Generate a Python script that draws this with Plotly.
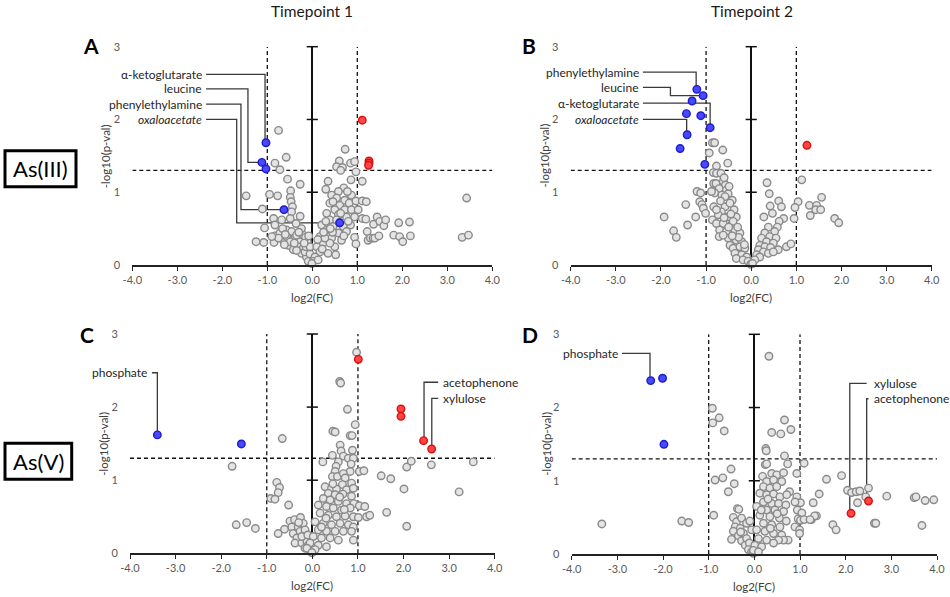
import plotly.graph_objects as go

# ---------------- data ----------------
X_TICKS = [-4, -3, -2, -1, 0, 1, 2, 3, 4]
X_TICK_TEXT = ["-4.0", "-3.0", "-2.0", "-1.0", "0.0", "1.0", "2.0", "3.0", "4.0"]
Y_TICKS = [0, 1, 2, 3]
FC_CUT = 1.0          # |log2(FC)| threshold
P_CUT = 1.3           # -log10(0.05)

# Panel A : As(III), timepoint 1
A_GRAY = [(-0.75,1.85),(-0.58,1.48),(-0.83,1.40),(-0.72,1.31),(-0.55,1.18),(-0.27,1.11),(-1.47,0.95),
          (-0.95,0.97),(-0.77,0.95),(-0.48,1.02),(-0.49,0.93),(-0.47,0.87),(-0.44,0.80),(-1.11,0.77),
          (-0.46,0.73),(-0.27,0.67),(-0.49,0.64),(-0.86,0.64),(-0.68,0.62),(-0.36,0.57),(-1.06,0.51),
          (-0.83,0.55),(-1.25,0.32),(-1.08,0.31),(-0.85,0.31),(-0.83,0.40),(-0.72,0.44),(-0.57,0.48),
          (-0.46,0.46),(-0.64,0.34),(-0.53,0.27),(-0.38,0.37),(-0.27,0.32),(-0.31,0.25),(-0.20,0.23),
          (-0.42,0.21),(-0.24,0.16),(-0.13,0.11),(-0.09,0.05),(-0.16,0.18),(-0.35,0.41),(-0.20,0.41),
          (-0.24,0.50),(-0.57,0.39),(-0.75,0.37),(-0.66,0.50),(-0.90,0.39),(-0.49,0.32),(-0.11,0.32),
          (-0.14,0.25),(-0.60,0.42),(-0.40,0.30),(-0.30,0.45),(-0.15,0.38),(-0.05,0.15),(-0.05,0.25),
          (-0.62,0.28),(-0.35,0.20),(-0.18,0.30),(-0.08,0.40),
          (0.73,1.59),(0.60,1.43),(0.54,1.35),(0.67,1.34),(0.85,1.40),(0.94,1.42),(0.63,1.30),(0.97,1.28),
          (0.86,1.17),(0.35,1.15),(0.30,1.04),(0.70,1.06),(0.58,1.01),(0.43,0.96),(0.87,0.96),(0.54,0.92),
          (0.72,0.89),(0.39,0.85),(0.61,0.82),(0.82,0.85),(0.97,0.88),(0.50,0.76),(0.72,0.76),(0.87,0.76),
          (0.32,0.71),(0.58,0.69),(0.76,0.66),(0.94,0.66),(0.39,0.62),(0.21,0.55),(0.46,0.53),(0.69,0.53),
          (0.85,0.55),(0.32,0.48),(0.58,0.44),(0.76,0.46),(0.17,0.39),(0.43,0.37),(0.65,0.34),(0.24,0.30),
          (0.50,0.25),(0.10,0.25),(0.17,0.18),(0.35,0.16),(0.06,0.11),(0.02,0.05),(-0.01,0.02),(0.13,0.07),
          (0.52,0.14),(0.39,0.30),(0.28,0.37),(0.54,0.62),(0.63,0.71),(0.46,0.87),(0.78,1.01),(0.25,0.45),
          (0.45,0.45),(0.70,0.40),(0.30,0.60),(0.60,0.58),(0.80,0.60),(0.12,0.35),(0.22,0.22),(0.40,0.50),
          (1.11,1.15),(1.11,0.88),(1.20,0.87),(1.02,0.76),(1.11,0.64),(1.19,0.63),(0.94,0.38),(0.97,0.29),
          (1.22,0.46),(1.24,0.34),(1.29,0.37),(1.35,0.37),(1.39,0.37),(1.44,0.66),(1.36,0.56),(1.50,0.60),
          (1.59,0.54),(1.63,0.62),(1.48,0.40),(1.81,0.41),(1.92,0.58),(1.94,0.39),(2.01,0.32),(2.16,0.59),
          (2.18,0.40),(3.43,0.92),(3.33,0.38),(3.47,0.41)]
A_BLUE_X = [-1.03, -1.12, -1.03, -0.63, 0.61]
A_BLUE_Y = [1.68, 1.41, 1.32, 0.76, 0.58]
A_RED_X = [1.11, 1.26, 1.26, 1.25]
A_RED_Y = [1.99, 1.43, 1.40, 1.37]
A_LABELS = ["α-ketoglutarate", "leucine", "phenylethylamine", "<i>oxaloacetate</i>"]
A_LABEL_Y = [2.62, 2.42, 2.21, 2.00]
A_CORNER_X = [-1.05, -1.43, -1.585, -1.68]
A_TARGET = [(-1.03, 1.68), (-1.12, 1.41), (-0.63, 0.76), (0.61, 0.58)]
A_TEXT_X, A_LINE_X = -2.43, -2.36

# Panel B : As(III), timepoint 2
B_GRAY = [(-0.86,1.68),(-0.81,1.68),(-0.93,1.54),(-0.63,1.58),(-0.52,1.40),(-0.77,1.36),(-0.84,1.27),
          (-0.77,1.26),(-0.67,1.26),(-0.83,1.12),(-0.78,1.12),(-0.62,1.15),(-0.57,1.10),(-0.71,1.05),
          (-0.55,1.03),(-1.20,1.01),(-1.12,0.99),(-0.81,0.99),(-0.65,0.96),(-0.51,0.98),(-0.42,0.89),
          (-1.14,0.87),(-1.09,0.83),(-1.45,0.83),(-1.06,0.78),(-1.01,0.71),(-0.83,0.80),(-0.58,0.80),
          (-0.66,0.73),(-0.38,0.76),(-0.73,0.69),(-0.52,0.66),(-0.33,0.66),(-1.93,0.66),(-1.23,0.66),
          (-0.86,0.62),(-0.77,0.57),(-0.62,0.57),(-0.44,0.55),(-1.41,0.55),(-1.72,0.47),(-1.66,0.38),
          (-0.70,0.48),(-0.55,0.46),(-0.36,0.48),(-0.25,0.44),(-0.71,0.39),(-0.51,0.37),(-0.33,0.34),
          (-0.21,0.32),(-0.47,0.27),(-0.40,0.23),(-0.25,0.25),(-0.14,0.23),(-0.36,0.16),(-0.21,0.14),
          (-0.10,0.11),(-0.33,0.09),(-0.18,0.07),(-0.07,0.05),(-0.01,0.01),(-0.62,0.41),(-0.77,0.76),
          (-0.47,0.85),(-0.58,0.94),(-0.49,1.08),(-0.88,1.01),(-0.45,0.70),(-0.40,0.60),(-0.30,0.52),
          (-0.60,0.65),(-0.50,0.52),(-0.28,0.38),(-0.15,0.28),(-0.42,0.40),(-0.68,0.88),(-0.60,1.20),
          (0.35,1.13),(0.40,0.98),(0.61,0.88),(0.42,0.81),(0.67,0.80),(0.47,0.71),(0.28,0.66),(0.72,0.64),
          (0.62,0.60),(0.58,0.52),(0.38,0.52),(0.52,0.46),(0.30,0.44),(0.41,0.39),(0.23,0.37),(0.55,0.37),
          (0.34,0.32),(0.49,0.30),(0.19,0.27),(0.30,0.25),(0.43,0.24),(0.60,0.21),(0.78,0.25),(0.88,0.29),
          (0.16,0.21),(0.27,0.18),(0.12,0.14),(0.19,0.11),(0.08,0.07),(0.03,0.02),(0.38,0.16),(0.49,0.18),
          (1.12,1.17),(1.04,0.87),(0.97,0.79),(0.95,0.64),(1.29,0.82),(1.45,0.82),(1.56,0.93),(1.43,0.76),
          (1.54,0.76),(1.31,0.68),(1.85,0.64),(1.94,0.58)]
B_BLUE_X = [-1.205, -1.065, -1.31, -1.435, -1.117, -0.91, -1.42, -1.575, -1.028]
B_BLUE_Y = [2.414, 2.327, 2.254, 2.08, 2.052, 1.887, 1.79, 1.60, 1.383]
B_RED_X = [1.235]
B_RED_Y = [1.645]
B_LABELS = ["phenylethylamine", "leucine", "α-ketoglutarate", "<i>oxaloacetate</i>"]
B_LABEL_Y = [2.65, 2.44, 2.225, 2.00]
B_CORNER_X = [-1.22, -1.79, -0.91, -1.43]
B_TARGET = [(-1.205, 2.414), (-1.065, 2.327), (-0.91, 1.887), (-1.42, 1.79)]
B_TEXT_X, B_LINE_X = -2.47, -2.40

# Panel C : As(V), timepoint 1
C_GRAY = [(-0.66,1.57),(-1.76,1.19),(-0.78,0.97),(-0.72,0.90),(-0.75,0.83),(-0.91,0.75),(-0.82,0.74),
          (-0.52,0.66),(-1.67,0.39),(-1.44,0.42),(-1.25,0.34),(-0.75,0.27),(-0.61,0.33),(-0.49,0.44),
          (-0.39,0.46),(-0.26,0.49),(-0.45,0.36),(-0.31,0.36),(-0.20,0.41),(-0.42,0.27),(-0.27,0.30),
          (-0.16,0.32),(-0.34,0.21),(-0.20,0.23),(-0.38,0.14),(-0.23,0.14),(-0.12,0.16),(-0.16,0.07),
          (-0.07,0.05),(-0.01,0.01),(-0.09,0.11),(-0.23,0.23),(-0.30,0.42),(-0.10,0.25),
          (0.97,2.75),(0.60,2.35),(0.62,2.33),(0.77,1.97),(0.94,1.76),(0.45,1.67),(0.50,1.66),(0.83,1.61),
          (0.87,1.61),(0.61,1.48),(0.63,1.40),(0.88,1.41),(0.44,1.34),(0.68,1.33),(0.79,1.30),(0.90,1.30),
          (0.23,1.25),(0.57,1.25),(0.52,1.19),(0.85,1.22),(0.83,1.12),(1.03,1.12),(1.13,1.13),(0.50,1.12),
          (0.44,1.05),(0.55,1.05),(0.68,1.09),(0.72,1.03),(0.66,0.94),(0.86,0.96),(0.28,0.91),(0.42,0.89),
          (0.53,0.88),(0.75,0.87),(0.90,0.89),(0.35,0.82),(0.50,0.80),(0.67,0.81),(0.86,0.78),(0.24,0.75),
          (0.39,0.73),(0.57,0.71),(0.75,0.68),(0.91,0.68),(0.13,0.66),(0.31,0.64),(0.46,0.62),(0.64,0.59),
          (0.83,0.62),(1.03,0.65),(1.15,0.64),(0.17,0.55),(0.35,0.52),(0.53,0.50),(0.72,0.51),(0.90,0.50),
          (1.01,0.49),(1.19,0.50),(1.26,0.52),(0.06,0.43),(0.24,0.41),(0.42,0.39),(0.61,0.41),(0.79,0.39),
          (0.90,0.36),(0.13,0.32),(0.31,0.30),(0.50,0.30),(0.68,0.30),(0.86,0.30),(0.02,0.23),(0.20,0.21),
          (0.39,0.21),(0.57,0.18),(0.90,0.18),(-0.05,0.14),(0.13,0.11),(0.31,0.09),(-0.12,0.07),(0.06,0.05),
          (-0.01,0.01),(0.45,0.95),(0.60,0.77),(0.30,0.48),(0.70,0.60),(0.20,0.36),
          (1.51,1.06),(1.72,1.02),(1.63,0.56),(2.01,0.88),(2.07,0.37),(2.07,1.18),(2.17,1.26),(2.61,1.21),
          (3.22,0.84),(3.53,1.25)]
C_BLUE_X = [-3.40, -1.557]
C_BLUE_Y = [1.62, 1.496]
C_RED_X = [1.008, 1.944, 1.944, 2.44, 2.617]
C_RED_Y = [2.654, 1.974, 1.874, 1.541, 1.427]
C_LABELS = ["phosphate", "acetophenone", "xylulose"]
C_LABEL_Y = [2.47, 2.34, 2.12]
C_CORNER_X = [-3.40, 2.45, 2.62]
C_TARGET = [(-3.40, 1.62), (2.44, 1.541), (2.617, 1.427)]
C_TEXT_X = [-3.60, 2.84, 2.84]
C_LINE_X = [-3.52, 2.76, 2.76]
C_SIDE = ["right", "left", "left"]

# Panel D : As(V), timepoint 2
D_GRAY = [(-0.92,1.99),(-0.77,1.86),(-0.91,1.79),(-0.66,1.68),(-0.51,1.16),(-0.86,1.01),(-0.69,1.04),
          (-0.44,0.96),(-0.57,0.85),(-0.89,0.53),(-3.34,0.41),(-1.59,0.45),(-1.44,0.43),(-0.37,0.62),
          (-0.34,0.61),(-0.46,0.50),(-0.39,0.44),(-0.28,0.49),(-0.42,0.37),(-0.31,0.35),(-0.46,0.31),
          (-0.50,0.20),(-0.35,0.25),(-0.24,0.28),(-0.28,0.18),(-0.17,0.21),(-0.20,0.12),(-0.11,0.15),
          (-0.13,0.06),(-0.06,0.03),(-0.02,0.01),(-0.17,0.42),(-0.06,0.33),(-0.10,0.45),(-0.30,0.30),
          (0.32,2.70),(0.66,1.83),(0.38,1.66),(0.58,1.64),(0.80,1.70),(0.25,1.44),(0.26,1.41),(0.66,1.34),
          (0.24,1.22),(0.27,1.23),(0.73,1.23),(1.09,1.24),(0.93,1.10),(0.38,1.10),(0.49,1.08),(0.64,1.11),
          (0.18,1.06),(0.27,0.99),(0.42,1.01),(0.60,0.99),(0.20,0.92),(0.34,0.90),(0.49,0.92),(0.77,0.85),
          (0.12,0.83),(0.27,0.81),(0.42,0.82),(0.56,0.78),(0.71,0.81),(0.93,0.78),(1.01,0.70),(0.89,0.71),
          (0.20,0.71),(0.38,0.69),(0.53,0.69),(0.69,0.67),(0.05,0.65),(0.27,0.60),(0.45,0.60),(0.64,0.58),
          (0.94,0.60),(1.04,0.56),(0.12,0.53),(0.34,0.51),(0.55,0.49),(0.96,0.48),(1.01,0.46),(1.09,0.47),
          (1.25,0.47),(1.36,0.52),(0.20,0.42),(0.38,0.40),(0.56,0.37),(0.89,0.37),(0.99,0.33),(0.05,0.33),
          (0.23,0.31),(0.42,0.28),(0.60,0.26),(0.74,0.19),(0.64,0.19),(0.53,0.19),(0.99,0.28),(0.09,0.21),
          (0.27,0.19),(0.42,0.15),(0.01,0.12),(0.16,0.10),(-0.02,0.05),(0.09,0.03),(0.30,0.75),(0.50,0.55),
          (0.15,0.60),(0.70,0.45),(0.35,0.35),
          (1.42,0.82),(1.29,0.70),(1.58,1.02),(1.91,1.07),(1.72,0.40),(1.79,0.33),(2.04,0.87),(2.13,0.84),
          (2.23,0.85),(2.31,0.86),(2.50,0.90),(2.26,0.70),(2.44,0.78),(2.63,0.42),(2.66,0.42),(2.90,0.79),
          (3.50,0.77),(3.54,0.78),(3.74,0.73),(3.93,0.74),(3.67,0.39),(1.32,0.52),(1.22,0.47)]
D_BLUE_X = [-2.27, -2.01, -1.98]
D_BLUE_Y = [2.368, 2.40, 1.498]
D_RED_X = [2.117, 2.50]
D_RED_Y = [0.556, 0.724]
D_LABELS = ["phosphate", "xylulose", "acetophenone"]
D_LABEL_Y = [2.74, 2.33, 2.12]
D_CORNER_X = [-2.285, 2.09, 2.46]
D_TARGET = [(-2.27, 2.368), (2.117, 0.556), (2.50, 0.724)]
D_TEXT_X = [-2.96, 2.60, 2.60]
D_LINE_X = [-2.90, 2.46, 2.50]
D_SIDE = ["right", "left", "left"]

# ---------------- styling ----------------
FONT = "Lato"
TICK_FONT = dict(family=FONT, size=11, color="#595959")
GRAY_MK = dict(size=7.5, color="#e4e4e4", line=dict(color="#8a8a8a", width=1.4))
BLUE_MK = dict(size=7.5, color="#4848ff", line=dict(color="#1c1cc8", width=1.4))
RED_MK = dict(size=7.5, color="#ff4545", line=dict(color="#d81010", width=1.4))

panels = [
    dict(n="", gray=A_GRAY, bx=A_BLUE_X, by=A_BLUE_Y, rx=A_RED_X, ry=A_RED_Y,
         labels=A_LABELS, ly=A_LABEL_Y, cx=A_CORNER_X, tgt=A_TARGET,
         tx=[A_TEXT_X]*4, lx=[A_LINE_X]*4, side=["right"]*4,
         xd=[132.3/950, 492.3/950], yd=[1-265/597, 1-46.7/597]),
    dict(n="2", gray=B_GRAY, bx=B_BLUE_X, by=B_BLUE_Y, rx=B_RED_X, ry=B_RED_Y,
         labels=B_LABELS, ly=B_LABEL_Y, cx=B_CORNER_X, tgt=B_TARGET,
         tx=[B_TEXT_X]*4, lx=[B_LINE_X]*4, side=["right"]*4,
         xd=[570.7/950, 931.7/950], yd=[1-265/597, 1-46.7/597]),
    dict(n="3", gray=C_GRAY, bx=C_BLUE_X, by=C_BLUE_Y, rx=C_RED_X, ry=C_RED_Y,
         labels=C_LABELS, ly=C_LABEL_Y, cx=C_CORNER_X, tgt=C_TARGET,
         tx=C_TEXT_X, lx=C_LINE_X, side=C_SIDE,
         xd=[130/950, 494.7/950], yd=[1-553.3/597, 1-334/597]),
    dict(n="4", gray=D_GRAY, bx=D_BLUE_X, by=D_BLUE_Y, rx=D_RED_X, ry=D_RED_Y,
         labels=D_LABELS, ly=D_LABEL_Y, cx=D_CORNER_X, tgt=D_TARGET,
         tx=D_TEXT_X, lx=D_LINE_X, side=D_SIDE,
         xd=[571.7/950, 937/950], yd=[1-554/597, 1-334.3/597]),
]

fig = go.Figure()
shapes, annotations = [], []
layout_axes = {}

for p in panels:
    n = p["n"]
    xr, yr = "x" + n, "y" + n
    # y-axis tick marks sitting on the centre (x = 0) axis
    fig.add_trace(go.Scatter(x=[0]*3, y=Y_TICKS[1:], xaxis=xr, yaxis=yr, mode="markers",
                             marker=dict(symbol="line-ew", size=8, line=dict(color="#111", width=1.5)),
                             hoverinfo="skip", cliponaxis=False))
    gx = [v[0] for v in p["gray"]]
    gy = [v[1] for v in p["gray"]]
    fig.add_trace(go.Scatter(x=gx, y=gy, xaxis=xr, yaxis=yr, mode="markers", marker=GRAY_MK, cliponaxis=False))
    fig.add_trace(go.Scatter(x=p["bx"], y=p["by"], xaxis=xr, yaxis=yr, mode="markers", marker=BLUE_MK, cliponaxis=False))
    fig.add_trace(go.Scatter(x=p["rx"], y=p["ry"], xaxis=xr, yaxis=yr, mode="markers", marker=RED_MK, cliponaxis=False))

    layout_axes["xaxis" + n] = dict(domain=p["xd"], anchor=yr, range=[-4, 4], tickvals=X_TICKS,
                                    ticktext=X_TICK_TEXT, showline=True, linecolor="#222", linewidth=1.5,
                                    ticks="outside", ticklen=4, tickwidth=1.3, tickcolor="#222",
                                    showgrid=False, zeroline=True, zerolinecolor="#111", zerolinewidth=1.5,
                                    tickfont=TICK_FONT, fixedrange=True, automargin=False)
    layout_axes["yaxis" + n] = dict(domain=p["yd"], anchor=xr, range=[0, 3], tickvals=Y_TICKS,
                                    showline=False, ticks="outside", ticklen=9, tickcolor="rgba(0,0,0,0)",
                                    showgrid=False, zeroline=False, tickfont=TICK_FONT, fixedrange=True,
                                    automargin=False)

    dash = dict(color="#111", width=1.3, dash="4px,3px")
    shapes.append(dict(type="line", xref=xr, yref=yr, x0=-4, x1=4, y0=P_CUT, y1=P_CUT, line=dash, layer="below"))
    for sgn in (-1, 1):
        shapes.append(dict(type="line", xref=xr, yref=yr, x0=sgn*FC_CUT, x1=sgn*FC_CUT, y0=0, y1=3,
                           line=dash, layer="below"))

    for i, lab in enumerate(p["labels"]):
        tgx, tgy = p["tgt"][i]
        path = "M {},{} L {},{} L {},{} L {},{}".format(p["lx"][i], p["ly"][i], p["cx"][i], p["ly"][i],
                                                        p["cx"][i], tgy, tgx, tgy)
        shapes.append(dict(type="path", xref=xr, yref=yr, path=path,
                           line=dict(color="#3a3a3a", width=1.3), layer="below"))
        annotations.append(dict(text=lab, x=p["tx"][i], y=p["ly"][i], xref=xr, yref=yr, showarrow=False,
                                xanchor=p["side"][i], yanchor="middle", borderpad=0,
                                font=dict(family=FONT, size=12, color="#262626")))

    # axis titles
    annotations.append(dict(text="log2(FC)", xref=xr + " domain", yref=yr + " domain", x=0.5, y=0,
                            yshift=-32, showarrow=False, xanchor="center", yanchor="middle",
                            font=dict(family=FONT, size=11.5, color="#404040")))
    annotations.append(dict(text="-log10(p-val)", xref=xr + " domain", yref=yr + " domain", x=0, y=0.5,
                            xshift=-26, showarrow=False, textangle=-90, xanchor="center", yanchor="middle",
                            font=dict(family=FONT, size=11.5, color="#404040")))

# panel letters
for letter, px, py in [("A", 90.5, 45.5), ("B", 529, 45.5), ("C", 87, 334.5), ("D", 529.5, 334.5)]:
    annotations.append(dict(text="<b>" + letter + "</b>", x=px/950, y=1-py/597, xref="paper", yref="paper",
                            showarrow=False, xanchor="center", yanchor="middle",
                            font=dict(family=FONT, size=21, color="#000")))

# column titles
for txt, px in [("Timepoint 1", 312.3), ("Timepoint 2", 751.5)]:
    annotations.append(dict(text=txt, x=px/950, y=1-11/597, xref="paper", yref="paper", showarrow=False,
                            xanchor="center", yanchor="middle", font=dict(family=FONT, size=15.5, color="#1a1a1a")))

# row boxes
for txt, x0, x1, y0, y1 in [("As(III)", 5, 76, 150.7, 186.7), ("As(V)", 5, 71.7, 443.3, 479.3)]:
    shapes.append(dict(type="rect", xref="paper", yref="paper", x0=x0/950, x1=x1/950,
                       y0=1-y1/597, y1=1-y0/597, line=dict(color="#000", width=3), fillcolor="white"))
    annotations.append(dict(text=txt, x=(x0+x1)/2/950, y=1-(y0+y1)/2/597, xref="paper", yref="paper",
                            showarrow=False, xanchor="center", yanchor="middle",
                            font=dict(family=FONT, size=22, color="#000")))

fig.update_layout(width=950, height=597, margin=dict(l=0, r=0, t=0, b=0, pad=0, autoexpand=False),
                  showlegend=False, paper_bgcolor="white", plot_bgcolor="white",
                  shapes=shapes, annotations=annotations, hovermode=False, **layout_axes)

fig.write_html("out.html", config={"displayModeBar": False},
               post_script="document.body.style.margin='0';document.body.style.overflow='hidden';")
